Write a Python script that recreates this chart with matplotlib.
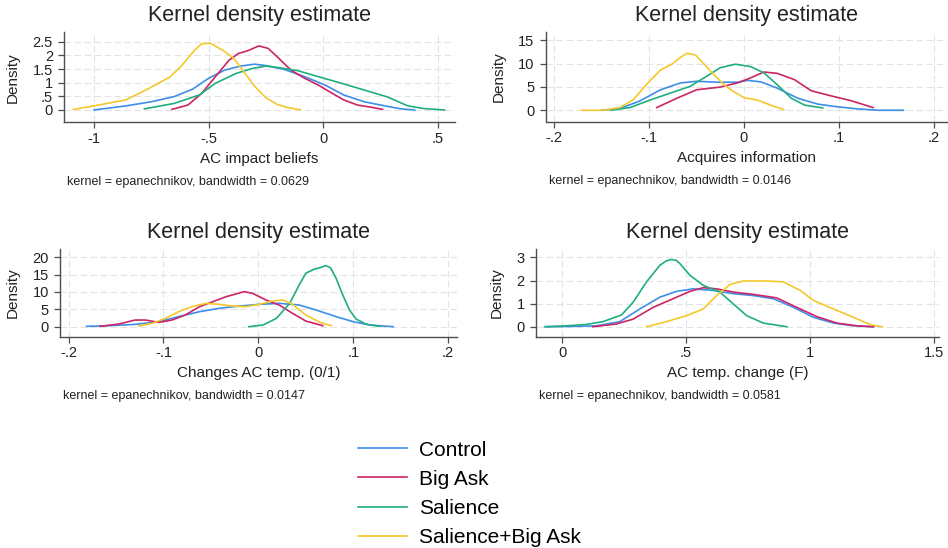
import matplotlib
matplotlib.use("Agg")
import matplotlib.pyplot as plt

plt.rcParams['font.family'] = ['Liberation Sans', 'DejaVu Sans']

groups = ["Control", "Big Ask", "Salience", "Salience+Big Ask"]
colors = ["#3d8ee8", "#cc2466", "#1fae7f", "#f5c82a"]

# --- AC impact beliefs ---
beliefs_control_x = [-1.0, -0.86, -0.75, -0.65, -0.57, -0.5, -0.43, -0.36, -0.3, -0.25, -0.17, -0.08, 0.01, 0.09, 0.18, 0.27, 0.34, 0.4]
beliefs_control_y = [0.0, 0.15, 0.3, 0.49, 0.76, 1.16, 1.46, 1.61, 1.68, 1.63, 1.49, 1.22, 0.91, 0.55, 0.3, 0.15, 0.04, 0.0]
beliefs_bigask_x = [-0.66, -0.59, -0.53, -0.47, -0.41, -0.37, -0.33, -0.28, -0.24, -0.2, -0.14, -0.08, -0.02, 0.04, 0.09, 0.15, 0.21, 0.26]
beliefs_bigask_y = [0.02, 0.18, 0.61, 1.22, 1.83, 2.07, 2.17, 2.35, 2.26, 1.95, 1.46, 1.16, 0.91, 0.61, 0.37, 0.18, 0.1, 0.02]
beliefs_salience_x = [-0.78, -0.65, -0.54, -0.47, -0.38, -0.31, -0.25, -0.2, -0.11, -0.02, 0.08, 0.18, 0.28, 0.37, 0.44, 0.53]
beliefs_salience_y = [0.04, 0.24, 0.55, 0.98, 1.34, 1.52, 1.61, 1.56, 1.44, 1.22, 0.98, 0.73, 0.48, 0.15, 0.05, 0.0]
beliefs_salbig_x = [-1.09, -1.0, -0.86, -0.77, -0.67, -0.62, -0.56, -0.53, -0.49, -0.44, -0.39, -0.35, -0.3, -0.25, -0.2, -0.15, -0.1]
beliefs_salbig_y = [0.02, 0.15, 0.37, 0.75, 1.2, 1.6, 2.2, 2.43, 2.44, 2.2, 1.9, 1.45, 0.88, 0.45, 0.2, 0.08, 0.01]

# --- Acquires information ---
info_control_x = [-0.15, -0.131, -0.11, -0.088, -0.067, -0.05, -0.028, -0.007, 0.004, 0.018, 0.035, 0.057, 0.078, 0.099, 0.12, 0.142, 0.168]
info_control_y = [0.0, 0.36, 1.97, 4.38, 5.84, 6.2, 6.0, 6.0, 6.4, 6.06, 4.74, 2.55, 1.31, 0.73, 0.29, 0.0, 0.0]
info_bigask_x = [-0.092, -0.071, -0.05, -0.025, -0.007, 0.007, 0.021, 0.035, 0.053, 0.071, 0.092, 0.113, 0.136]
info_bigask_y = [0.58, 2.55, 4.38, 4.96, 5.84, 6.93, 8.18, 7.9, 6.57, 4.16, 3.07, 2.04, 0.58]
info_salience_x = [-0.14, -0.12, -0.099, -0.078, -0.057, -0.039, -0.025, -0.009, 0.007, 0.021, 0.035, 0.05, 0.064, 0.083]
info_salience_y = [0.0, 0.58, 2.19, 3.65, 5.1, 7.3, 9.1, 9.85, 9.34, 8.0, 5.47, 2.55, 1.1, 0.5]
info_salbig_x = [-0.171, -0.149, -0.131, -0.117, -0.103, -0.088, -0.076, -0.067, -0.06, -0.051, -0.042, -0.032, -0.021, -0.011, 0.0, 0.014, 0.028, 0.042]
info_salbig_y = [0.0, 0.0, 0.58, 2.19, 5.47, 8.6, 9.85, 11.3, 12.2, 11.8, 9.85, 7.66, 5.47, 4.0, 2.7, 2.19, 1.1, 0.15]

# --- Changes AC temp. (0/1) ---
changes_control_x = [-0.181, -0.158, -0.13, -0.105, -0.084, -0.062, -0.041, -0.02, 0.001, 0.022, 0.043, 0.061, 0.082, 0.1, 0.118, 0.142]
changes_control_y = [0.1, 0.29, 0.67, 1.44, 2.9, 4.33, 5.3, 5.96, 6.44, 6.73, 6.25, 4.8, 2.9, 1.44, 0.48, 0.0]
changes_bigask_x = [-0.167, -0.147, -0.13, -0.119, -0.105, -0.091, -0.077, -0.062, -0.048, -0.034, -0.024, -0.015, -0.006, 0.008, 0.022, 0.036, 0.05, 0.068]
changes_bigask_y = [0.1, 0.77, 1.92, 1.92, 1.25, 1.92, 3.37, 5.77, 7.2, 8.65, 9.4, 10.1, 9.6, 7.7, 6.25, 3.85, 1.63, 0.29]
changes_salience_x = [-0.01, 0.005, 0.019, 0.033, 0.043, 0.05, 0.059, 0.065, 0.071, 0.076, 0.082, 0.089, 0.096, 0.103, 0.114, 0.128]
changes_salience_y = [0.0, 0.5, 2.4, 6.7, 12.0, 15.4, 16.6, 17.0, 17.6, 17.0, 13.9, 9.1, 4.8, 2.2, 0.67, 0.1]
changes_salbig_x = [-0.126, -0.112, -0.098, -0.084, -0.07, -0.055, -0.041, -0.027, -0.013, 0.001, 0.015, 0.026, 0.036, 0.05, 0.065, 0.077]
changes_salbig_y = [0.2, 0.96, 2.4, 4.33, 5.77, 6.73, 6.44, 5.96, 5.77, 6.44, 7.4, 7.7, 6.44, 3.37, 1.25, 0.29]

# --- AC temp. change (F) ---
tempf_control_x = [-0.065, 0.016, 0.137, 0.232, 0.313, 0.394, 0.461, 0.528, 0.609, 0.69, 0.771, 0.852, 0.933, 1.013, 1.094, 1.175, 1.256]
tempf_control_y = [0.0, 0.01, 0.04, 0.22, 0.77, 1.28, 1.53, 1.64, 1.57, 1.43, 1.35, 1.21, 0.84, 0.41, 0.16, 0.04, 0.0]
tempf_bigask_x = [0.124, 0.218, 0.286, 0.367, 0.447, 0.515, 0.569, 0.623, 0.69, 0.771, 0.865, 0.946, 1.027, 1.108, 1.189, 1.256]
tempf_bigask_y = [0.0, 0.12, 0.33, 0.84, 1.21, 1.53, 1.69, 1.64, 1.5, 1.4, 1.25, 0.84, 0.44, 0.16, 0.04, 0.0]
tempf_salience_x = [-0.071, 0.016, 0.097, 0.164, 0.239, 0.286, 0.34, 0.394, 0.42, 0.441, 0.46, 0.474, 0.515, 0.569, 0.636, 0.69, 0.744, 0.811, 0.906]
tempf_salience_y = [0.0, 0.04, 0.1, 0.22, 0.51, 1.06, 1.94, 2.66, 2.85, 2.91, 2.87, 2.74, 2.23, 1.79, 1.5, 0.99, 0.48, 0.16, 0.0]
tempf_salbig_x = [0.34, 0.42, 0.501, 0.569, 0.623, 0.677, 0.73, 0.825, 0.892, 0.96, 1.013, 1.094, 1.175, 1.243, 1.29]
tempf_salbig_y = [0.0, 0.22, 0.48, 0.77, 1.35, 1.83, 1.98, 1.98, 1.94, 1.57, 1.14, 0.77, 0.41, 0.09, 0.0]

xlabels = ["AC impact beliefs", "Acquires information", "Changes AC temp. (0/1)", "AC temp. change (F)"]
bandwidths = ["0.0629", "0.0146", "0.0147", "0.0581"]

beliefs_xticks = [-1, -0.5, 0, 0.5]
beliefs_xticklabels = ["-1", "-.5", "0", ".5"]
beliefs_yticks = [0, 0.5, 1, 1.5, 2, 2.5]
beliefs_yticklabels = ["0", ".5", "1", "1.5", "2", "2.5"]
share_xticks = [-0.2, -0.1, 0, 0.1, 0.2]
share_xticklabels = ["-.2", "-.1", "0", ".1", ".2"]
info_yticks = [0, 5, 10, 15]
changes_yticks = [0, 5, 10, 15, 20]
tempf_xticks = [0, 0.5, 1, 1.5]
tempf_xticklabels = ["0", ".5", "1", "1.5"]
tempf_yticks = [0, 1, 2, 3]

panels = [
    dict(curves=[(beliefs_control_x, beliefs_control_y), (beliefs_bigask_x, beliefs_bigask_y),
                 (beliefs_salience_x, beliefs_salience_y), (beliefs_salbig_x, beliefs_salbig_y)],
         xticks=beliefs_xticks, xtl=beliefs_xticklabels, yticks=beliefs_yticks, ytl=beliefs_yticklabels,
         xlim=(-1.131, 0.576), ylim=(-0.46, 2.86), box=(64, 455, 32, 122.5)),
    dict(curves=[(info_control_x, info_control_y), (info_bigask_x, info_bigask_y),
                 (info_salience_x, info_salience_y), (info_salbig_x, info_salbig_y)],
         xticks=share_xticks, xtl=share_xticklabels, yticks=info_yticks, ytl=[str(v) for v in info_yticks],
         xlim=(-0.209, 0.214), ylim=(-2.4, 16.8), box=(545.7, 947, 31.7, 121.5)),
    dict(curves=[(changes_control_x, changes_control_y), (changes_bigask_x, changes_bigask_y),
                 (changes_salience_x, changes_salience_y), (changes_salbig_x, changes_salbig_y)],
         xticks=share_xticks, xtl=share_xticklabels, yticks=changes_yticks, ytl=[str(v) for v in changes_yticks],
         xlim=(-0.209, 0.209), ylim=(-2.88, 22.3), box=(60, 456.7, 249.3, 336.7)),
    dict(curves=[(tempf_control_x, tempf_control_y), (tempf_bigask_x, tempf_bigask_y),
                 (tempf_salience_x, tempf_salience_y), (tempf_salbig_x, tempf_salbig_y)],
         xticks=tempf_xticks, xtl=tempf_xticklabels, yticks=tempf_yticks, ytl=[str(v) for v in tempf_yticks],
         xlim=(-0.107, 1.52), ylim=(-0.43, 3.35), box=(535.7, 939, 249.3, 336.7)),
]

W, H = 948, 548
fig = plt.figure(figsize=(W / 100, H / 100), dpi=100)

axes_color = "#4d4d4d"
handles = []
for i, p in enumerate(panels):
    l, r, t, b = p["box"]
    ax = fig.add_axes([l / W, 1 - b / H, (r - l) / W, (b - t) / H])
    for (xs, ys), c in zip(p["curves"], colors):
        ln, = ax.plot(xs, ys, color=c, lw=1.2, solid_joinstyle="round")
        if i == 0:
            handles.append(ln)
    ax.set_xlim(*p["xlim"])
    ax.set_ylim(*p["ylim"])
    ax.set_xticks(p["xticks"])
    ax.set_xticklabels(p["xtl"])
    ax.set_yticks(p["yticks"])
    ax.set_yticklabels(p["ytl"])
    ax.grid(True, color="#e3e3e3", lw=0.8, linestyle=(0, (6, 3)))
    ax.set_axisbelow(True)
    for s in ["top", "right"]:
        ax.spines[s].set_visible(False)
    for s in ["left", "bottom"]:
        ax.spines[s].set_color(axes_color)
        ax.spines[s].set_linewidth(1.0)
    ax.tick_params(axis="both", direction="out", length=4, width=0.9, color=axes_color,
                   labelsize=10.5, labelcolor="#222222")
    ax.tick_params(axis="x", pad=3)
    ax.tick_params(axis="y", pad=4)
    ax.set_xlabel(xlabels[i], fontsize=11, color="#222222", labelpad=4)
    ax.set_ylabel("Density", fontsize=11, color="#222222", labelpad=9)
    ax.set_title("Kernel density estimate", fontsize=15.5, color="#222222", pad=8)
    fig.text(l / W + 0.003, 1 - (b + 59.5) / H, "kernel = epanechnikov, bandwidth = " + bandwidths[i],
             fontsize=9, color="#222222", va="center", ha="left")

fig.legend(handles, groups, loc="upper left", bbox_to_anchor=(357.7 / W, 1 - 440.5 / H),
           frameon=False, fontsize=15, handlelength=2.38, handletextpad=0.56,
           labelspacing=0.49, borderpad=0, borderaxespad=0)

fig.savefig("out.png", dpi=100, facecolor="white")
